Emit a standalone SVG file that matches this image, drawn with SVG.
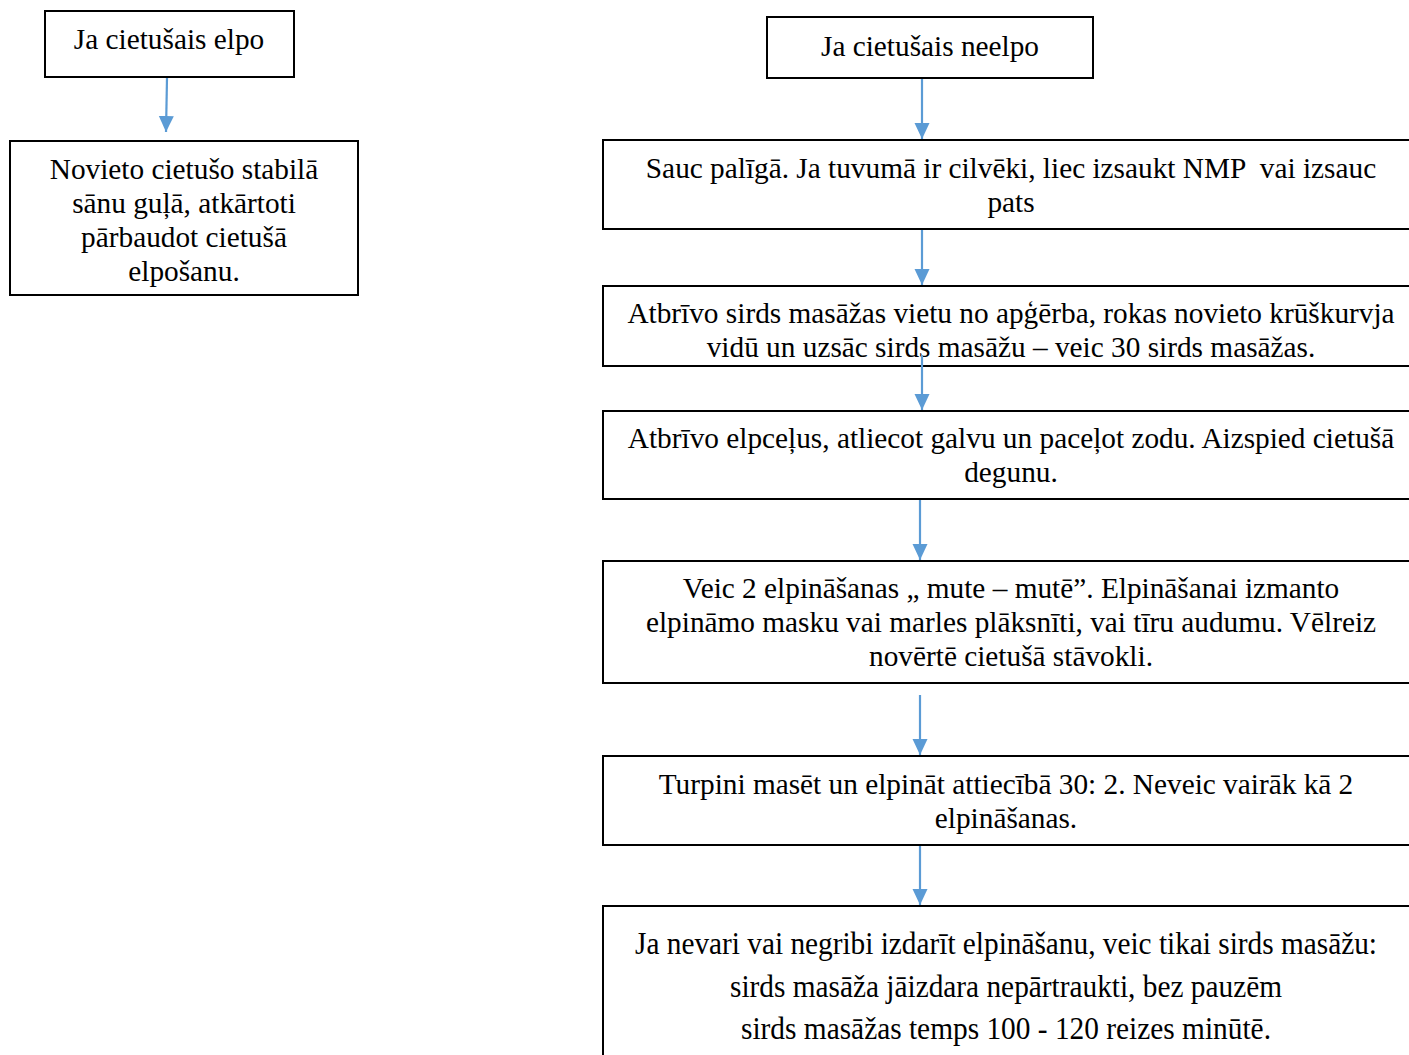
<svg xmlns="http://www.w3.org/2000/svg" width="1409" height="1055" viewBox="0 0 1409 1055">
<style>
.box{fill:#fff;stroke:#000;stroke-width:2}
.t{font-family:"Liberation Serif","Times New Roman",serif;font-size:29.3px;fill:#000;text-anchor:middle}
.tc{font-size:31px}
.c{stroke:#5B9BD5;stroke-width:2.2;fill:none}
</style>
<defs>
<marker id="ah" markerUnits="userSpaceOnUse" markerWidth="18" markerHeight="18" viewBox="0 0 18 18" refX="16" refY="9" orient="auto">
<path d="M0,1.5 L16,9 L0,16.5 Z" fill="#5B9BD5"/>
</marker>
</defs>
<rect width="1409" height="1055" fill="#fff"/>
<g id="n1"><rect class="box" x="45" y="11" width="249" height="66"/>
<text class="t" x="169" y="49">Ja cietušais elpo</text></g>
<g id="n2"><rect class="box" x="10" y="141" width="348" height="154"/>
<text class="t" x="184" y="179">Novieto cietušo stabilā</text>
<text class="t" x="184" y="213">sānu guļā, atkārtoti</text>
<text class="t" x="184" y="247">pārbaudot cietušā</text>
<text class="t" x="184" y="281">elpošanu.</text></g>
<g id="r1"><rect class="box" x="767" y="17" width="326" height="61"/>
<text class="t" x="930" y="56">Ja cietušais neelpo</text></g>
<g id="r2"><rect class="box" x="603" y="140" width="820" height="89"/>
<text class="t" x="1011" y="178" xml:space="preserve">Sauc palīgā. Ja tuvumā ir cilvēki, liec izsaukt NMP  vai izsauc</text>
<text class="t" x="1011" y="212">pats</text></g>
<g id="r3"><rect class="box" x="603" y="286" width="820" height="80"/>
<text class="t" x="1011" y="323">Atbrīvo sirds masāžas vietu no apģērba, rokas novieto krūškurvja</text>
<text class="t" x="1011" y="357">vidū un uzsāc sirds masāžu – veic 30 sirds masāžas.</text></g>
<g id="r4"><rect class="box" x="603" y="411" width="820" height="88"/>
<text class="t" x="1011" y="448">Atbrīvo elpceļus, atliecot galvu un paceļot zodu. Aizspied cietušā</text>
<text class="t" x="1011" y="482">degunu.</text></g>
<g id="r5"><rect class="box" x="603" y="561" width="820" height="122"/>
<text class="t" x="1011" y="598">Veic 2 elpināšanas „ mute – mutē”. Elpināšanai izmanto</text>
<text class="t" x="1011" y="632">elpināmo masku vai marles plāksnīti, vai tīru audumu. Vēlreiz</text>
<text class="t" x="1011" y="666">novērtē cietušā stāvokli.</text></g>
<g id="r6"><rect class="box" x="603" y="756" width="820" height="89"/>
<text class="t" x="1006" y="794">Turpini masēt un elpināt attiecībā 30: 2. Neveic vairāk kā 2</text>
<text class="t" x="1006" y="828">elpināšanas.</text></g>
<g id="r7"><rect class="box" x="603" y="906" width="820" height="160"/>
<text class="t tc" x="1006" y="954" textLength="742" lengthAdjust="spacingAndGlyphs">Ja nevari vai negribi izdarīt elpināšanu, veic tikai sirds masāžu:</text>
<text class="t tc" x="1006" y="997" textLength="552" lengthAdjust="spacingAndGlyphs">sirds masāža jāizdara nepārtraukti, bez pauzēm</text>
<text class="t tc" x="1006" y="1039" textLength="530" lengthAdjust="spacingAndGlyphs">sirds masāžas temps 100 - 120 reizes minūtē.</text></g>
<g id="connectors">
<line class="c" x1="167" y1="78" x2="166" y2="132" marker-end="url(#ah)"/>
<line class="c" x1="922" y1="79" x2="922" y2="139" marker-end="url(#ah)"/>
<line class="c" x1="922" y1="230" x2="922" y2="285" marker-end="url(#ah)"/>
<line class="c" x1="922" y1="355" x2="922" y2="410" marker-end="url(#ah)"/>
<line class="c" x1="920" y1="500" x2="920" y2="560" marker-end="url(#ah)"/>
<line class="c" x1="920" y1="695" x2="920" y2="755" marker-end="url(#ah)"/>
<line class="c" x1="920" y1="846" x2="920" y2="905" marker-end="url(#ah)"/>
</g>
</svg>
